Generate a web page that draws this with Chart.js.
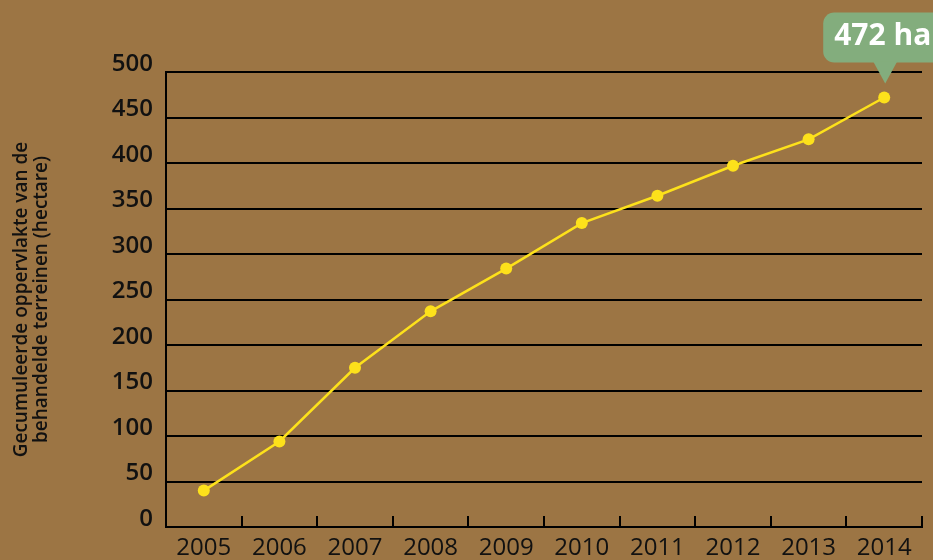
<!DOCTYPE html>
<html>
<head>
<meta charset="utf-8">
<script src="https://cdn.jsdelivr.net/npm/chart.js@4/dist/chart.umd.min.js"></script>
<style>
html,body{margin:0;padding:0;background:#9c7544;}
#wrap{width:933px;height:560px;position:relative;}
</style>
</head>
<body>
<div id="wrap"><canvas id="c" width="933" height="560"></canvas></div>
<script>
const years = ['2005','2006','2007','2008','2009','2010','2011','2012','2013','2014'];
const hectares = [40, 94, 175, 237, 284, 334, 364, 397, 426, 472];
const yTicks = [0, 50, 100, 150, 200, 250, 300, 350, 400, 450, 500];
const axisTitle = ['Gecumuleerde oppervlakte van de', 'behandelde terreinen (hectare)'];
const calloutText = '472 ha';

const BG = '#9c7544';
const YELLOW = '#fde11b';
const GREEN = '#83ad7d';

const bgPlugin = {
  id: 'bg',
  beforeDraw(chart) {
    const ctx = chart.ctx;
    ctx.save();
    ctx.fillStyle = BG;
    ctx.fillRect(0, 0, chart.width, chart.height);
    ctx.restore();
  }
};

const xTickPlugin = {
  id: 'xTicksUp',
  afterDatasetsDraw(chart) {
    const xs = chart.scales.x, ys = chart.scales.y;
    const ctx = chart.ctx;
    const half = (xs.getPixelForValue(1) - xs.getPixelForValue(0)) / 2;
    const base = ys.getPixelForValue(0);
    ctx.save();
    ctx.strokeStyle = '#000';
    ctx.lineWidth = 2;
    for (let i = 0; i < years.length; i++) {
      const x = Math.round(xs.getPixelForValue(i) + half);
      ctx.beginPath();
      ctx.moveTo(x, base);
      ctx.lineTo(x, base - 11);
      ctx.stroke();
    }
    ctx.restore();
  }
};

const calloutPlugin = {
  id: 'callout',
  afterDraw(chart) {
    const meta = chart.getDatasetMeta(0);
    const last = meta.data[meta.data.length - 1];
    const px = last.x, py = last.y;
    const ctx = chart.ctx;
    ctx.save();
    ctx.fillStyle = GREEN;
    const left = px - 61, top = py - 85, bottom = py - 35, right = px + 80, r = 11;
    ctx.beginPath();
    ctx.moveTo(left + r, top);
    ctx.lineTo(right - r, top);
    ctx.arcTo(right, top, right, top + r, r);
    ctx.lineTo(right, bottom - r);
    ctx.arcTo(right, bottom, right - r, bottom, r);
    ctx.lineTo(left + r, bottom);
    ctx.arcTo(left, bottom, left, bottom - r, r);
    ctx.lineTo(left, top + r);
    ctx.arcTo(left, top, left + r, top, r);
    ctx.closePath();
    ctx.fill();
    ctx.beginPath();
    ctx.moveTo(px - 11, bottom - 1);
    ctx.lineTo(px + 13, bottom - 1);
    ctx.lineTo(px + 1, py - 14);
    ctx.closePath();
    ctx.fill();
    ctx.fillStyle = '#ffffff';
    ctx.font = 'bold 30px "Open Sans"';
    ctx.textBaseline = 'alphabetic';
    ctx.textAlign = 'left';
    ctx.fillText(calloutText, px - 50, py - 52);
    ctx.restore();
  }
};

new Chart(document.getElementById('c'), {
  type: 'line',
  data: {
    labels: years,
    datasets: [{
      data: hectares,
      borderColor: YELLOW,
      backgroundColor: YELLOW,
      borderWidth: 2.5,
      pointRadius: 6,
      pointHoverRadius: 6,
      pointBackgroundColor: YELLOW,
      pointBorderWidth: 0,
      tension: 0,
      clip: false
    }]
  },
  options: {
    responsive: false,
    animation: false,
    events: [],
    layout: { padding: { top: 72, right: 11, left: 0, bottom: 0 } },
    plugins: { legend: { display: false }, tooltip: { enabled: false } },
    scales: {
      x: {
        type: 'category',
        offset: true,
        grid: { display: false, offset: true },
        border: { display: true, color: '#000', width: 2 },
        ticks: {
          color: '#111',
          font: { family: '"Open Sans"', size: 24, weight: '400', lineHeight: 1.2 },
          padding: -1,
          maxRotation: 0,
          autoSkip: false
        },
        afterFit(s) { s.height = 33; }
      },
      y: {
        min: 0,
        max: 500,
        afterBuildTicks(s) { s.ticks = yTicks.map(v => ({ value: v })); },
        grid: { color: '#000', lineWidth: 2, drawTicks: false },
        border: { display: true, color: '#000', width: 2 },
        ticks: {
          color: '#111',
          font: { family: '"Open Sans"', size: 24, weight: '600' },
          padding: 13,
          labelOffset: -8
        },
        title: {
          display: true,
          text: axisTitle,
          color: '#111',
          font: { family: '"Open Sans"', size: 19, weight: '600', lineHeight: '20px' },
          padding: { top: 12, bottom: 0 }
        },
        afterFit(s) { s.width = 166; }
      }
    }
  },
  plugins: [bgPlugin, xTickPlugin, calloutPlugin]
});
</script>
</body>
</html>
